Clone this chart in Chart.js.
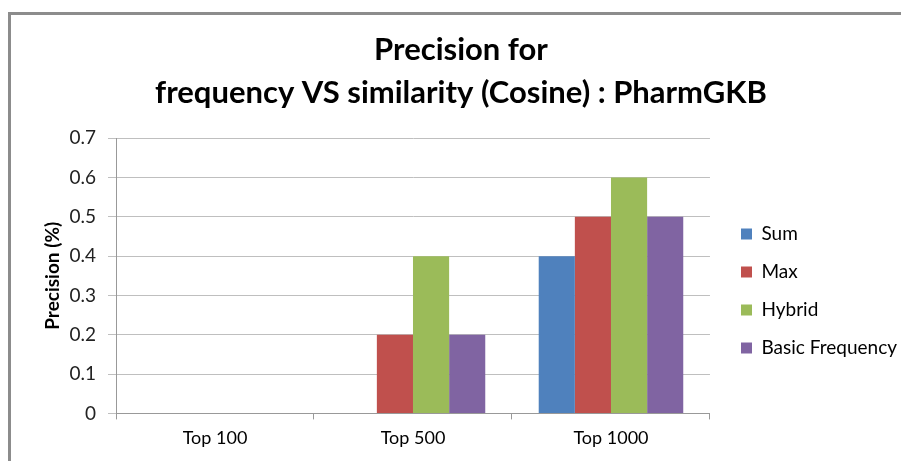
<!DOCTYPE html>
<html>
<head>
<meta charset="utf-8">
<script src="https://cdn.jsdelivr.net/npm/chart.js@4"></script>
<style>
  html, body { margin: 0; padding: 0; background: #fff; }
  #wrap { position: relative; width: 901px; height: 461px; overflow: hidden; }
  #frame { position: absolute; left: 8px; top: 12px; width: 1000px; height: 1000px;
           border-left: 3px solid #8c8c8c; border-top: 3px solid #8c8c8c; box-sizing: border-box; }
  canvas { position: absolute; left: 0; top: 0; }
</style>
</head>
<body>
<div id="wrap">
  <div id="frame"></div>
  <canvas id="c" width="901" height="461"></canvas>
</div>
<script>
const categories = ["Top 100", "Top 500", "Top 1000"];
const sumValues = [0, 0, 0.4];
const maxValues = [0, 0.2, 0.5];
const hybridValues = [0, 0.4, 0.6];
const basicFrequencyValues = [0, 0.2, 0.5];
const yTicks = [0, 0.1, 0.2, 0.3, 0.4, 0.5, 0.6, 0.7];

const FONT = "Lato, 'Open Sans', sans-serif";

const legendShift = {
  id: 'legendShift',
  afterLayout(chart) {
    const l = chart.legend;
    if (l) { l.left += 12; l.right += 12; }
  }
};

new Chart(document.getElementById('c'), {
  type: 'bar',
  data: {
    labels: categories,
    datasets: [
      { label: 'Sum', data: sumValues, backgroundColor: '#4F81BD' },
      { label: 'Max', data: maxValues, backgroundColor: '#C0504D' },
      { label: 'Hybrid', data: hybridValues, backgroundColor: '#9BBB59' },
      { label: 'Basic Frequency', data: basicFrequencyValues, backgroundColor: '#8064A2' }
    ]
  },
  plugins: [legendShift],
  options: {
    responsive: false,
    animation: false,
    devicePixelRatio: 1,
    layout: { padding: { left: 27, right: 6, top: 28, bottom: 4 } },
    datasets: { bar: { categoryPercentage: 0.73, barPercentage: 1.0 } },
    plugins: {
      title: {
        display: true,
        text: ['Precision for', 'frequency VS similarity (Cosine) : PharmGKB'],
        color: '#000',
        font: { family: FONT, size: 31, weight: 'bold', lineHeight: 1.39 },
        padding: { top: 0, bottom: 24 }
      },
      legend: {
        position: 'right',
        align: 'center',
        title: { display: true, text: ' ', font: { size: 1, lineHeight: 1 }, padding: { top: 96, bottom: 0 } },
        labels: {
          boxWidth: 11, boxHeight: 11,
          padding: 19,
          color: '#000',
          font: { family: FONT, size: 19 }
        }
      },
      tooltip: { enabled: false }
    },
    scales: {
      x: {
        grid: { display: true, drawOnChartArea: false, drawTicks: true, tickLength: 6, offset: true, color: '#999' },
        border: { color: '#999' },
        ticks: { color: '#000', font: { family: FONT, size: 18 }, padding: 8 }
      },
      y: {
        min: 0, max: 0.7,
        afterBuildTicks: (s) => { s.ticks = yTicks.map(v => ({ value: v })); },
        afterFit: (s) => { s.width = 89; },
        grid: { color: '#bfbfbf', drawTicks: true, tickLength: 8 },
        border: { color: '#999' },
        ticks: { color: '#222', font: { family: FONT, size: 19 }, padding: 12,
                 callback: (v) => String(Number(v.toFixed(1))) },
        title: { display: true, text: 'Precision (%)', color: '#000',
                 font: { family: FONT, size: 19, weight: 'bold' }, padding: { top: 14, bottom: 4 } }
      }
    }
  }
});
</script>
</body>
</html>
